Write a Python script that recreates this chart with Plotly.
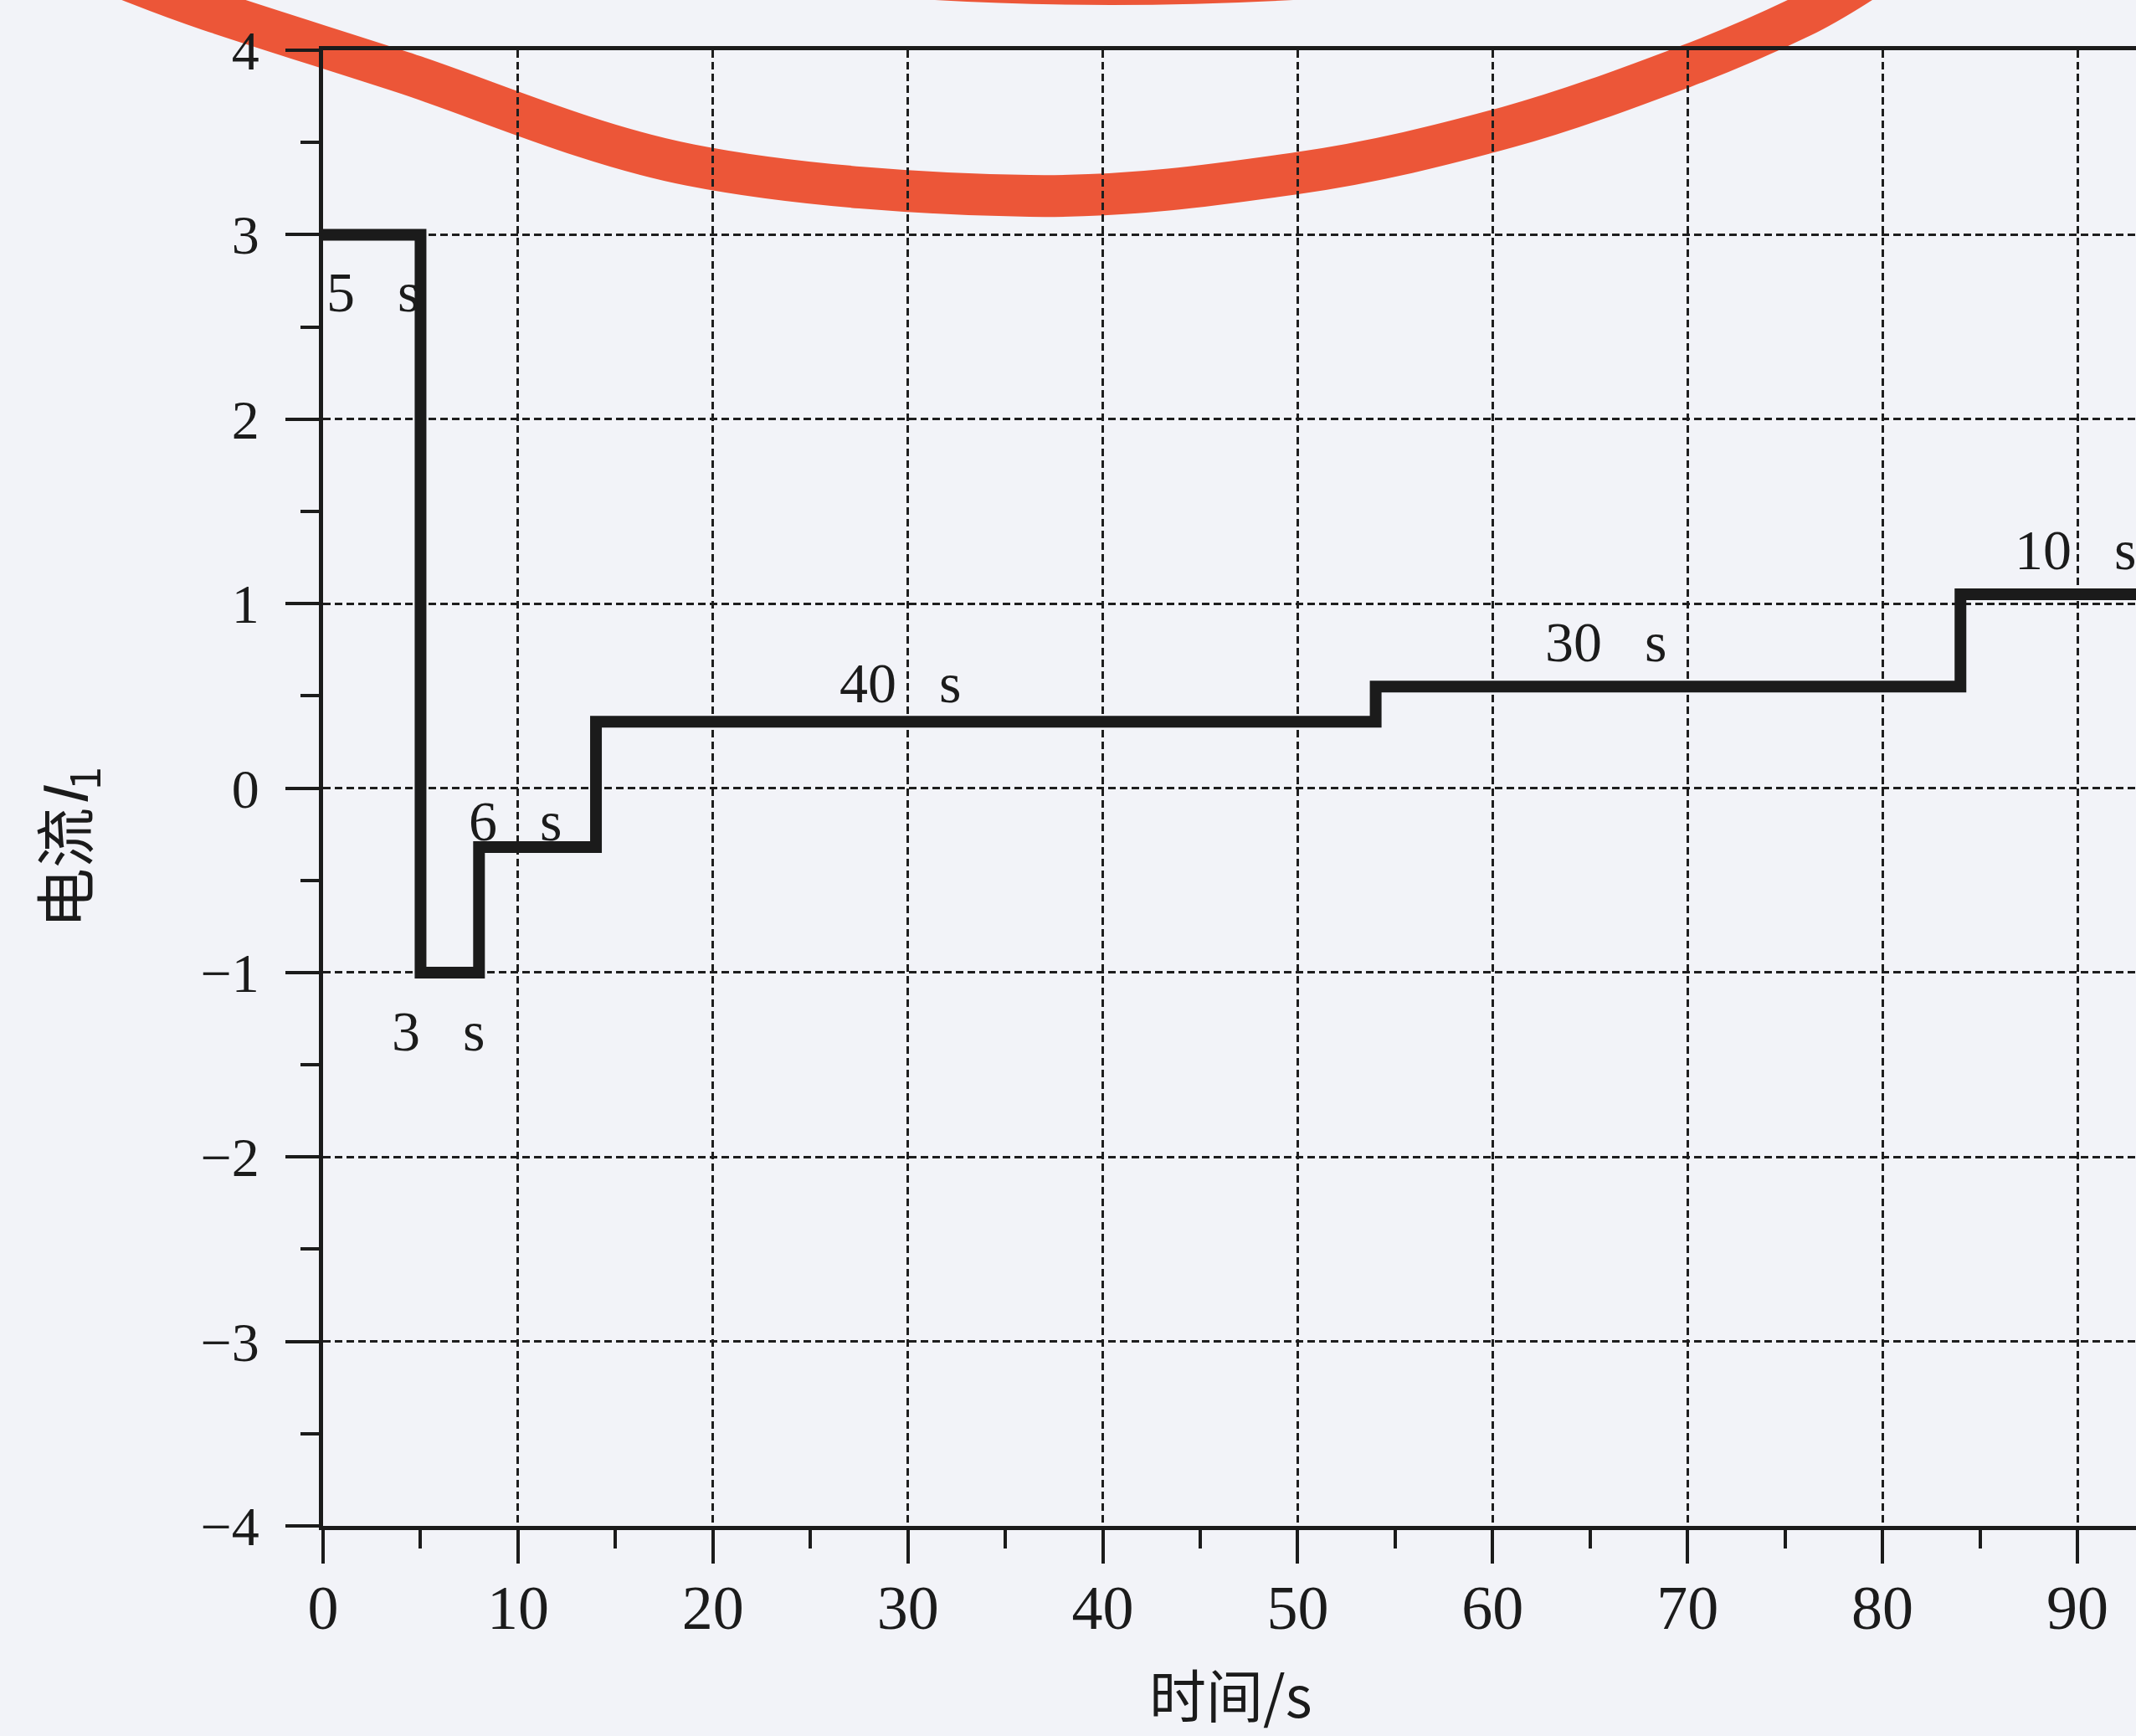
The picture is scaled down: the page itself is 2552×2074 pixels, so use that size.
import plotly.graph_objects as go

# ---- data ----
step_times = [0, 5, 8, 14, 54, 84, 94]
step_values = [3, -1, -0.32, 0.36, 0.55, 1.05, 1.05]

label_texts = ["5\u00a0\u00a0\u00a0s", "3\u00a0\u00a0\u00a0s", "6\u00a0\u00a0\u00a0s",
               "40\u00a0\u00a0\u00a0s", "30\u00a0\u00a0\u00a0s", "10\u00a0\u00a0\u00a0s"]
label_x = [0.1, 5.9, 9.85, 29.6, 65.8, 89.9]
label_y = [2.69, -1.32, -0.18, 0.57, 0.79, 1.29]
label_anchor = ["left", "center", "center", "center", "center", "center"]

x_ticks = [0, 10, 20, 30, 40, 50, 60, 70, 80, 90]
y_ticks = [-4, -3, -2, -1, 0, 1, 2, 3, 4]

W, H = 2552, 2074
L, R, T, B = 386, 0, 60, 251
PW, PH = W - L - R, H - T - B

fig = go.Figure()
fig.add_trace(go.Scatter(
    x=step_times, y=step_values, mode="lines", line_shape="hv",
    line=dict(color="#1b1b1b", width=14), showlegend=False, hoverinfo="skip"))

for t, x, y, a in zip(label_texts, label_x, label_y, label_anchor):
    fig.add_annotation(x=x, y=y, text=t, showarrow=False, xanchor=a, yanchor="middle",
                       font=dict(family="Liberation Serif", size=68, color="#1b1b1b"))

# axis titles
fig.add_annotation(xref="paper", yref="paper", x=(1470 - L) / PW, y=(H - B - 2022) / PH,
                   text="时间/s", showarrow=False, xanchor="center", yanchor="middle",
                   font=dict(family="Noto Sans CJK SC", size=68, color="#1b1b1b"))
fig.add_annotation(xref="paper", yref="paper", x=(78 - L) / PW, y=(H - B - 1013) / PH,
                   text="电流<i>I</i><sub>1</sub>", showarrow=False, textangle=-90,
                   xanchor="center", yanchor="middle",
                   font=dict(family="Noto Sans CJK SC", size=72, color="#1b1b1b"))

# red pen arc (decoration on the scanned page)
def px2paper(p):
    return ((p[0] - L) / PW, (H - B - p[1]) / PH)

arc_pts = [(150, -25), (250, 12), (480, 86), (824, 197), (1230, 234),
           (1549, 207), (1801, 152), (2012, 80), (2152, 20), (2230, -25)]
pp = [px2paper(p) for p in arc_pts]
ext = [pp[0]] + pp + [pp[-1]]
path = "M %.5f,%.5f" % pp[0]
for i in range(1, len(ext) - 2):
    p0, p1, p2, p3 = ext[i - 1], ext[i], ext[i + 1], ext[i + 2]
    c1 = (p1[0] + (p2[0] - p0[0]) / 6, p1[1] + (p2[1] - p0[1]) / 6)
    c2 = (p2[0] - (p3[0] - p1[0]) / 6, p2[1] - (p3[1] - p1[1]) / 6)
    path += " C %.5f,%.5f %.5f,%.5f %.5f,%.5f" % (c1 + c2 + p2)
fig.add_shape(type="path", path=path, xref="paper", yref="paper", layer="below",
              line=dict(color="#ec5638", width=50))

a0, a1, a2 = px2paper((1020, -12)), px2paper((1320, 14)), px2paper((1650, -12))
fig.add_shape(type="path", xref="paper", yref="paper", layer="below",
              path="M %.5f,%.5f Q %.5f,%.5f %.5f,%.5f" % (a0 + a1 + a2),
              line=dict(color="#ec5638", width=10))

grid = dict(showgrid=True, gridcolor="#1e1e1e", gridwidth=3, griddash="9px,5px",
            zeroline=False, showline=True, linecolor="#1b1b1b", linewidth=5,
            ticks="outside", tickcolor="#1b1b1b", tickwidth=4, ticklen=40)

fig.update_layout(
    width=W, height=H,
    margin=dict(l=L, r=R, t=T, b=B),
    paper_bgcolor="#f2f3f8", plot_bgcolor="rgba(0,0,0,0)",
    xaxis=dict(range=[0, PW / (2096 / 90)], tickvals=x_ticks,
               tickfont=dict(family="Liberation Serif", size=74, color="#1b1b1b"),
               ticklabelstandoff=-11, mirror=True,
               minor=dict(dtick=5, ticks="outside", ticklen=22, tickwidth=4,
                          tickcolor="#1b1b1b", showgrid=False),
               **grid),
    yaxis=dict(range=[-4, 4], tickvals=y_ticks,
               tickfont=dict(family="Liberation Serif", size=66, color="#1b1b1b"),
               ticklabelstandoff=18,
               minor=dict(dtick=0.5, ticks="outside", ticklen=22, tickwidth=4,
                          tickcolor="#1b1b1b", showgrid=False),
               **grid),
)

fig.write_html("out.html", config={"displayModeBar": False},
               post_script="document.body.style.margin='0';document.body.style.overflow='hidden';")
